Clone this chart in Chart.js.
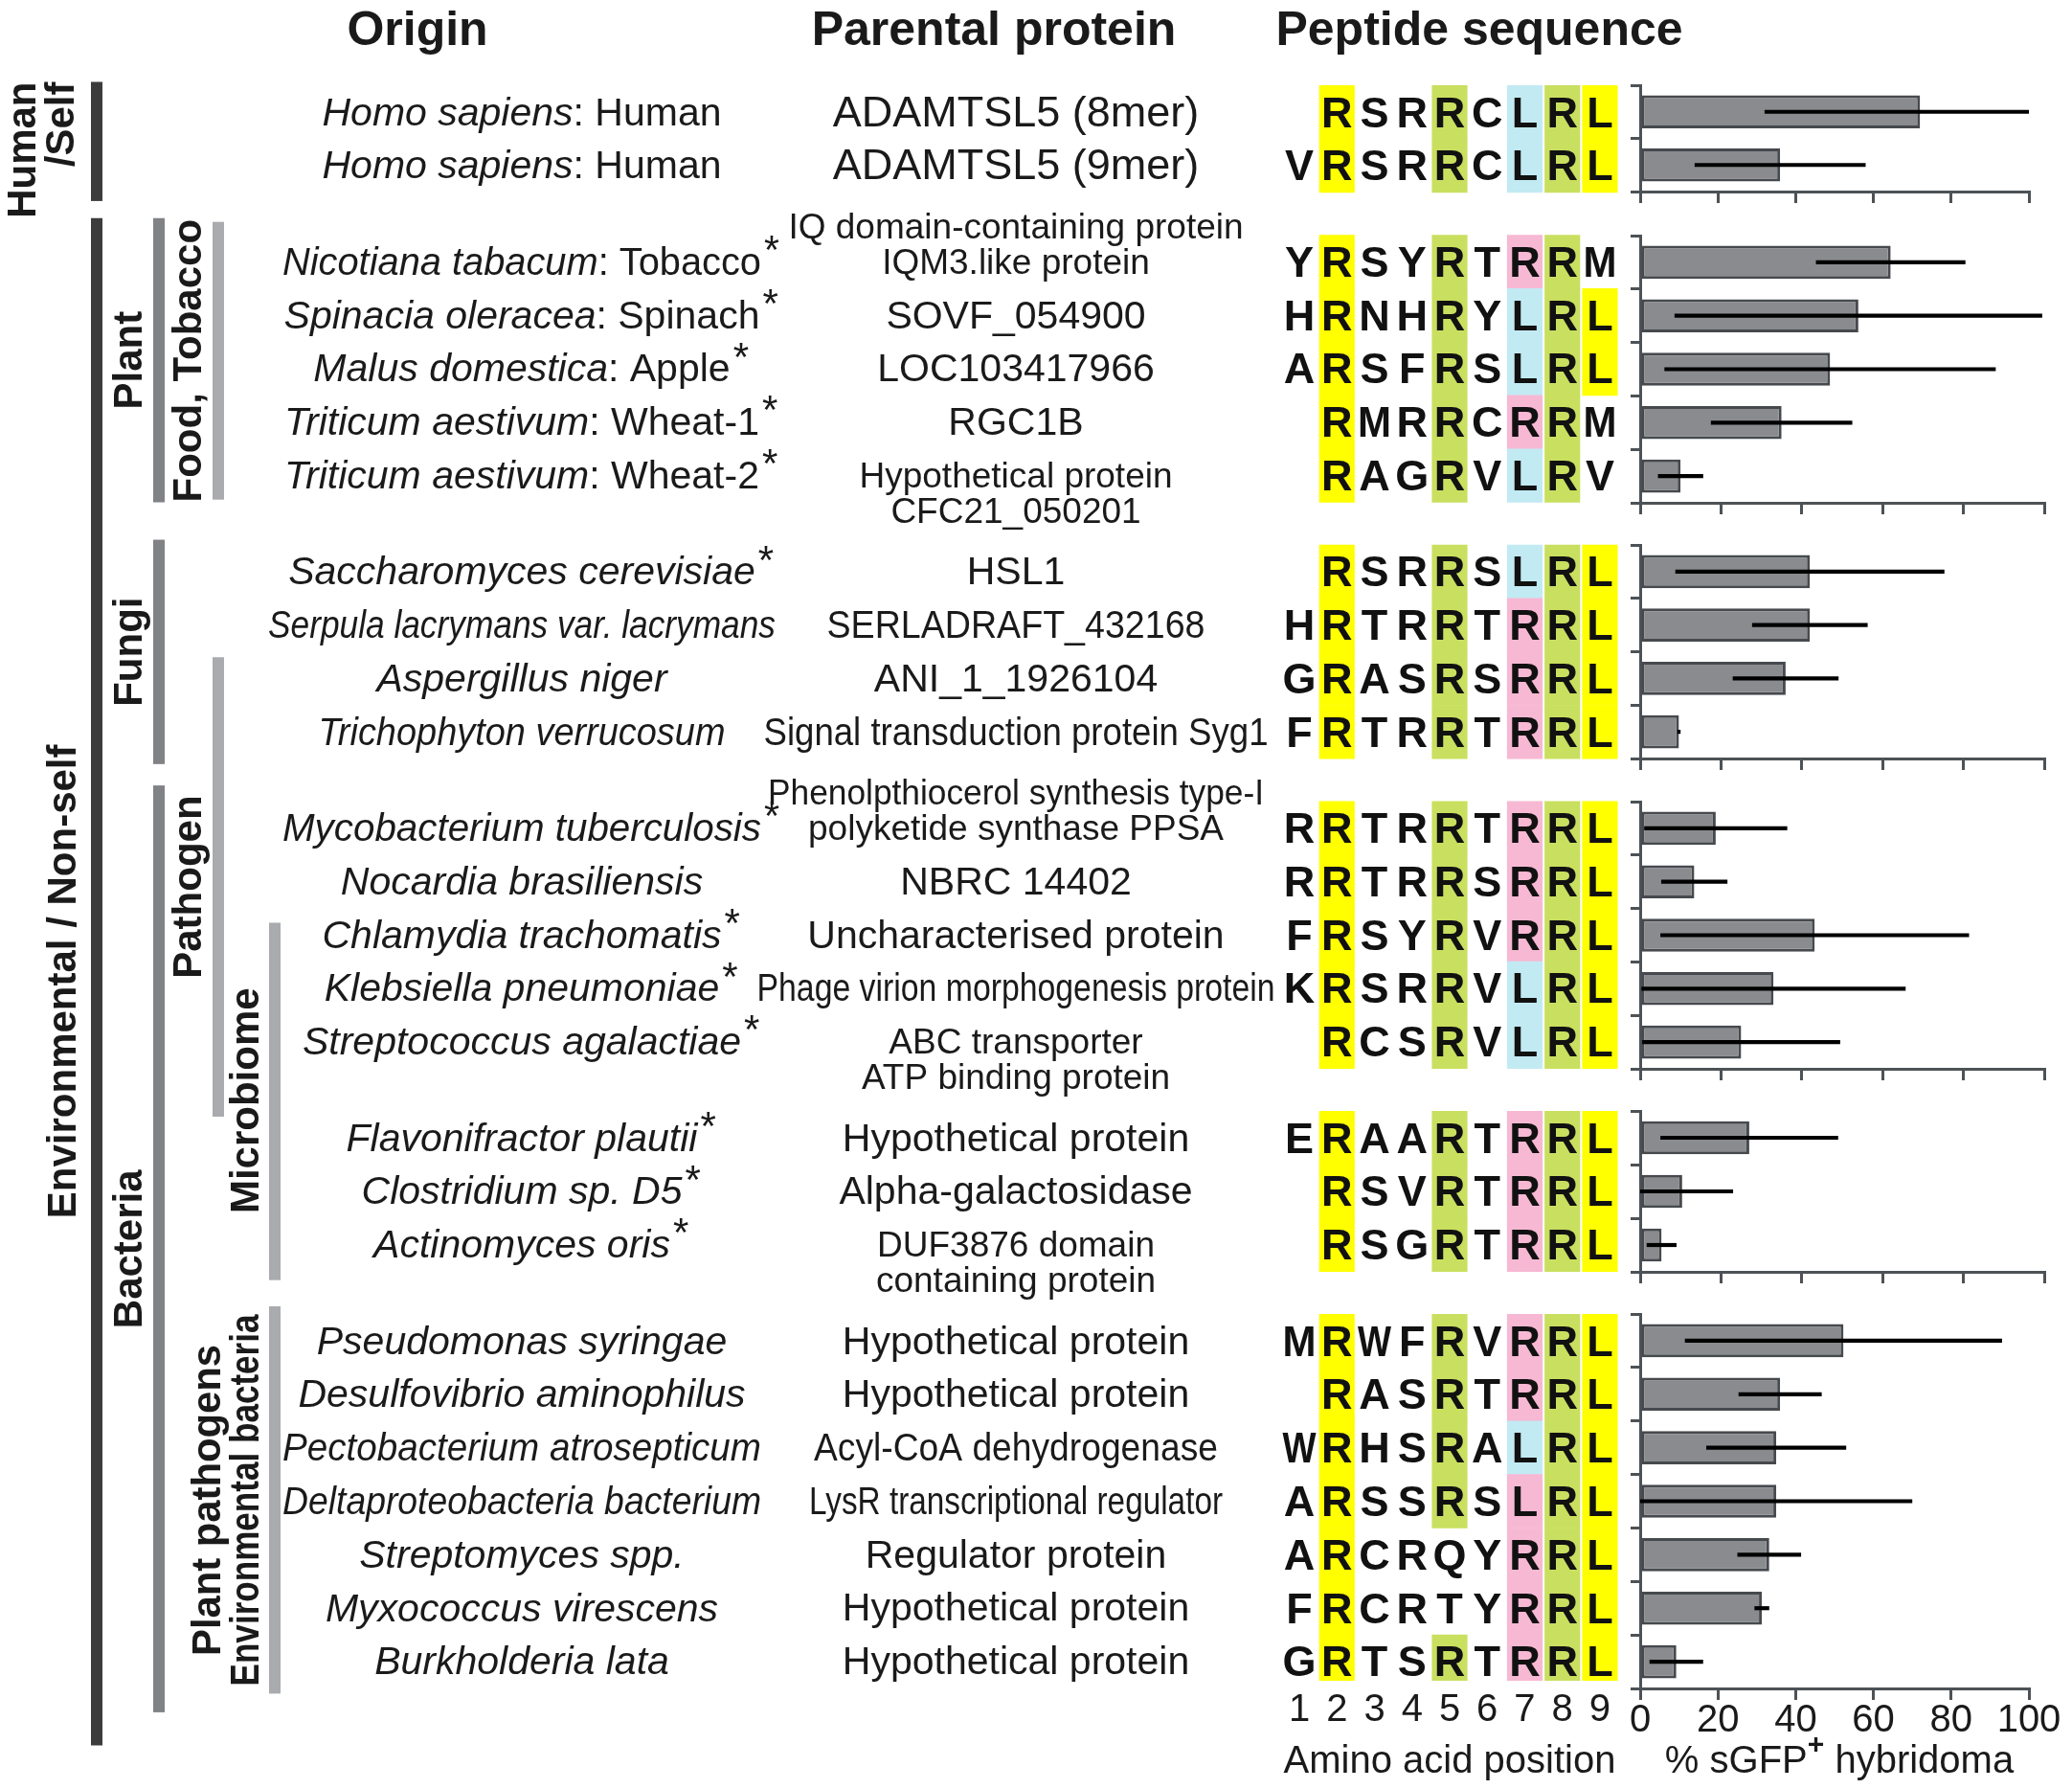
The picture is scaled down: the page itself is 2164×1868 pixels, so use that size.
<!DOCTYPE html>
<html>
<head>
<meta charset="utf-8">
<script src="https://cdn.jsdelivr.net/npm/chart.js@4.4.0/dist/chart.umd.min.js"></script>
<style>
  body { margin: 0; background: #fff; }
  #wrap { position: relative; width: 2164px; height: 1868px; overflow: hidden; background: #fff; }
  canvas { position: absolute; }
</style>
</head>
<body>
<div id="wrap"><canvas id="seq" width="2164" height="1868" style="left:0;top:0"></canvas></div>
<script>
// rows per block, top to bottom
const groupSizes = [2, 5, 4, 5, 3, 7];

const species = ["Homo sapiens", "Homo sapiens", "Nicotiana tabacum", "Spinacia oleracea", "Malus domestica",
    "Triticum aestivum", "Triticum aestivum", "Saccharomyces cerevisiae", "Serpula lacrymans var. lacrymans",
    "Aspergillus niger", "Trichophyton verrucosum", "Mycobacterium tuberculosis", "Nocardia brasiliensis",
    "Chlamydia trachomatis", "Klebsiella pneumoniae", "Streptococcus agalactiae", "Flavonifractor plautii",
    "Clostridium sp. D5", "Actinomyces oris", "Pseudomonas syringae", "Desulfovibrio aminophilus",
    "Pectobacterium atrosepticum", "Deltaproteobacteria bacterium", "Streptomyces spp.", "Myxococcus virescens",
    "Burkholderia lata"];
const commonNames = ["Human", "Human", "Tobacco", "Spinach", "Apple", "Wheat-1", "Wheat-2",
    "", "", "", "", "", "", "", "", "", "", "", "", "", "", "", "", "", "", ""];
const starred = [0, 0, 1, 1, 1, 1, 1, 1, 0, 0, 0, 1, 0, 1, 1, 1, 1, 1, 1, 0, 0, 0, 0, 0, 0, 0];

const parental = [["ADAMTSL5 (8mer)"], ["ADAMTSL5 (9mer)"], ["IQ domain-containing protein", "IQM3.like protein"],
    ["SOVF_054900"], ["LOC103417966"], ["RGC1B"], ["Hypothetical protein", "CFC21_050201"], ["HSL1"],
    ["SERLADRAFT_432168"], ["ANI_1_1926104"], ["Signal transduction protein Syg1"],
    ["Phenolpthiocerol synthesis type-I", "polyketide synthase PPSA"], ["NBRC 14402"], ["Uncharacterised protein"],
    ["Phage virion morphogenesis protein"], ["ABC transporter", "ATP binding protein"], ["Hypothetical protein"],
    ["Alpha-galactosidase"], ["DUF3876 domain", "containing protein"], ["Hypothetical protein"],
    ["Hypothetical protein"], ["Acyl-CoA dehydrogenase"], ["LysR transcriptional regulator"],
    ["Regulator protein"], ["Hypothetical protein"], ["Hypothetical protein"]];

// amino acid at positions 1-9 (space = none)
const peptides = [" RSRRCLRL", "VRSRRCLRL", "YRSYRTRRM", "HRNHRYLRL", "ARSFRSLRL", " RMRRCRRM", " RAGRVLRV",
    " RSRRSLRL", "HRTRRTRRL", "GRASRSRRL", "FRTRRTRRL", "RRTRRTRRL", "RRTRRSRRL", "FRSYRVRRL", "KRSRRVLRL",
    " RCSRVLRL", "ERAARTRRL", " RSVRTRRL", " RSGRTRRL", "MRWFRVRRL", " RASRTRRL", "WRHSRALRL", "ARSSRSLRL",
    "ARCRQYRRL", "FRCRTYRRL", "GRTSRTRRL"];
// highlight class per position: Y yellow, G green, C cyan, P pink
const peptideColours = [".Y..G.CGY", ".Y..G.CGY", ".Y..G.PG.", ".Y..G.CGY", ".Y..G.CGY", ".Y..G.PG.", ".Y..G.CG.",
    ".Y..G.CGY", ".Y..G.PGY", ".Y..G.PGY", ".Y..G.PGY", ".Y..G.PGY", ".Y..G.PGY", ".Y..G.PGY", ".Y..G.CGY",
    ".Y..G.CGY", ".Y..G.PGY", ".Y..G.PGY", ".Y..G.PGY", ".Y..G.PGY", ".Y..G.PGY", ".Y..G.CGY", ".Y..G.PGY",
    ".Y....PGY", ".Y....PGY", ".Y..G.PGY"];
const positions = ["1", "2", "3", "4", "5", "6", "7", "8", "9"];

// % sGFP+ hybridoma, mean and error
const sgfpMean = [72, 36, 62, 54, 47, 35, 10, 42, 42, 36, 9.6, 18.7, 13.4, 43.2, 33, 25, 27, 10.4, 5.3,
    52.3, 36, 35, 35, 33.2, 31.3, 9.3];
const sgfpErr = [40, 22, 18.5, 45.5, 41, 17.5, 5.6, 33.3, 14.3, 13.1, 0.4, 17.7, 8.2, 38.2, 32.7, 24.5, 22, 12.6, 3.7,
    40.8, 10.7, 18, 35, 8.2, 1.9, 6.9];
const xTicks = [0, 20, 40, 60, 80, 100];

// ---- layout / style ----
const FONT = "'Liberation Sans', Arial, Helvetica, sans-serif";
const INK = "#1a1a1a";
const AXIS = "#4d5256";
const GAP = 0.8;            // extra space between blocks, in rows
const ROW0 = 117.3, ROWH = 55.78;
const ORIGIN_X = 545, PARENT_X = 1061;
const TEXT_DY = 2;
const cellColours = {Y: "#ffff00", G: "#c9df5f", C: "#c2eaf3", P: "#f7b8d3"};
const parentalAnchor = {2: "last", 6: "first", 11: "last", 15: "first", 18: "first"};
const parentalMaxW = {8: 395, 10: 527, 11: 518, 14: 541, 21: 422, 22: 432};
const parentalSize = {0: 45, 1: 45};
const originMaxW = {8: 530, 10: 425};
const dark = "#3c3c3c", mid = "#808285", light = "#a9abae";
const brackets = [
    {x: 101, from: -0.57, to: 1.66, c: dark}, {x: 101, from: 1.98, to: 30.57, c: dark},
    {x: 166, from: 1.98, to: 7.3, c: mid}, {x: 166, from: 8.0, to: 12.2, c: mid}, {x: 166, from: 12.6, to: 29.95, c: mid},
    {x: 228, from: 2.05, to: 7.25, c: light}, {x: 228, from: 10.2, to: 18.8, c: light},
    {x: 287, from: 15.17, to: 21.86, c: light}, {x: 287, from: 22.35, to: 29.6, c: light}
];
const bracketLabels = [
    {text: "Human", x: 25, end: -0.57}, {text: "/Self", x: 65, end: -0.57},
    {text: "Environmental / Non-self", x: 67, mid: 16.27},
    {text: "Plant", x: 136, mid: 4.64}, {text: "Fungi", x: 136, mid: 10.1}, {text: "Bacteria", x: 136, mid: 21.28},
    {text: "Food, Tobacco", x: 198, mid: 4.65}, {text: "Pathogen", x: 198, mid: 14.5},
    {text: "Microbiome", x: 258, mid: 18.5},
    {text: "Plant pathogens", x: 218, mid: 25.98, maxW: 325},
    {text: "Environmental bacteria", x: 258, mid: 25.98, maxW: 388}
];

Chart.defaults.font.family = FONT;

const rowVal = [], rowGroup = [];
let rr = 0;
groupSizes.forEach((n, g) => { for (let k = 0; k < n; k++) { rowVal.push(rr + GAP * g); rowGroup.push(g); rr++; } });

const cells = [], cellFill = [];
peptideColours.forEach((row, i) => {
    [...row].forEach((c, j) => {
        if (cellColours[c]) {
            cells.push({x: positions[j], y: [rowVal[i] - 0.5, rowVal[i] + 0.5]});
            cellFill.push(cellColours[c]);
        }
    });
});

function drawOrigin(ctx, i, cy) {
    const it = "italic 41px " + FONT, rg = "41px " + FONT;
    ctx.font = it;
    const w1 = ctx.measureText(species[i]).width;
    const tail = commonNames[i] ? ": " + commonNames[i] : "";
    ctx.font = rg;
    const w2 = tail ? ctx.measureText(tail).width : 0;
    const total = w1 + w2;
    const k = Math.min(1, (originMaxW[i] || 500) / total);
    ctx.save();
    ctx.translate(ORIGIN_X - total * k / 2, cy);
    ctx.scale(k, 1);
    ctx.font = it;
    ctx.fillText(species[i], 0, 0);
    if (tail) { ctx.font = rg; ctx.fillText(tail, w1, 0); }
    if (starred[i]) { ctx.font = "42px " + FONT; ctx.fillText("*", total + 3, -12); }
    ctx.restore();
}

function drawParental(ctx, i, cy) {
    const lines = parental[i];
    const size = parentalSize[i] || (lines.length > 1 ? 37 : 41);
    ctx.font = size + "px " + FONT;
    let y0 = cy;
    if (lines.length > 1 && parentalAnchor[i] === "last") y0 = cy - 37 * (lines.length - 1);
    lines.forEach((t, l) => {
        const w = ctx.measureText(t).width;
        const maxW = parentalMaxW[i] || 560;
        const k = Math.min(1, maxW / w);
        ctx.save();
        ctx.translate(PARENT_X, y0 + l * 37);
        ctx.scale(k, 1);
        ctx.fillText(t, 0, 0);
        ctx.restore();
    });
}

const tablePlugin = {
    id: "table",
    afterDraw(chart) {
        const ctx = chart.ctx, y = chart.scales.y;
        ctx.save();
        ctx.fillStyle = INK;
        ctx.textBaseline = "middle";
        ctx.textAlign = "center";
        ctx.font = "bold 50px " + FONT;
        ctx.fillText("Origin", 436, 33);
        ctx.fillText("Parental protein", 1038, 33);
        ctx.fillText("Peptide sequence", 1545, 33);

        ctx.textAlign = "left";
        species.forEach((s, i) => drawOrigin(ctx, i, y.getPixelForValue(rowVal[i]) + TEXT_DY));
        ctx.textAlign = "center";
        parental.forEach((p, i) => drawParental(ctx, i, y.getPixelForValue(rowVal[i]) + TEXT_DY));

        brackets.forEach(b => {
            ctx.fillStyle = b.c;
            const t = y.getPixelForValue(b.from), btm = y.getPixelForValue(b.to);
            ctx.fillRect(b.x - 6, t, 12, btm - t);
        });
        ctx.fillStyle = INK;
        ctx.font = "bold 42px " + FONT;
        bracketLabels.forEach(l => {
            ctx.save();
            if (l.end !== undefined) {
                ctx.translate(l.x, y.getPixelForValue(l.end));
                ctx.rotate(-Math.PI / 2);
                ctx.textAlign = "right";
            } else {
                ctx.translate(l.x, y.getPixelForValue(l.mid));
                ctx.rotate(-Math.PI / 2);
                ctx.textAlign = "center";
            }
            if (l.maxW) ctx.fillText(l.text, 0, 0, l.maxW);
            else ctx.fillText(l.text, 0, 0);
            ctx.restore();
        });
        ctx.restore();
    }
};

const lettersPlugin = {
    id: "letters",
    afterDatasetsDraw(chart) {
        const ctx = chart.ctx, xs = chart.scales.x, ys = chart.scales.y;
        ctx.save();
        ctx.fillStyle = "#111";
        ctx.font = "bold 45px " + FONT;
        ctx.textAlign = "center";
        ctx.textBaseline = "middle";
        peptides.forEach((seq, i) => {
            [...seq].forEach((aa, j) => {
                if (aa !== " ") ctx.fillText(aa, xs.getPixelForValue(j), ys.getPixelForValue(rowVal[i]) + 3, 35);
            });
        });
        ctx.restore();
    }
};

const seqChart = new Chart(document.getElementById("seq"), {
    type: "bar",
    data: {
        labels: positions,
        datasets: [{data: cells, backgroundColor: cellFill, borderWidth: 0, barThickness: 36.5}]
    },
    options: {
        responsive: false, animation: false, devicePixelRatio: 1,
        layout: {padding: {left: 1337.4, right: 2164 - 1690.6, top: 61.5, bottom: 8}},
        plugins: {legend: {display: false}, tooltip: {enabled: false}},
        scales: {
            x: {
                type: "category", offset: true,
                grid: {display: false, drawTicks: false}, border: {display: false},
                ticks: {color: INK, font: {size: 40, lineHeight: 1}, padding: 11, maxRotation: 0},
                title: {display: true, text: "Amino acid position", color: INK,
                        font: {size: 40, lineHeight: 1}, padding: {top: 3, bottom: 0}}
            },
            y: {type: "linear", reverse: true, display: false, min: -1, max: 30}
        }
    },
    plugins: [tablePlugin, lettersPlugin]
});
// make the hidden row scale land rows where the figure has them
{
    const ca = seqChart.chartArea;
    seqChart.options.scales.y.min = (ca.top - ROW0) / ROWH;
    seqChart.options.scales.y.max = (ca.bottom - ROW0) / ROWH;
    seqChart.update();
}

const errorBars = {
    id: "errorBars",
    afterDatasetsDraw(chart) {
        const ds = chart.data.datasets[0], meta = chart.getDatasetMeta(0), xs = chart.scales.x, ctx = chart.ctx;
        ctx.save();
        ctx.strokeStyle = "#000";
        ctx.lineWidth = 4.2;
        meta.data.forEach((bar, i) => {
            const lo = Math.max(0, ds.data[i] - ds.errors[i]), hi = Math.min(100, ds.data[i] + ds.errors[i]);
            ctx.beginPath();
            ctx.moveTo(xs.getPixelForValue(lo), bar.y);
            ctx.lineTo(xs.getPixelForValue(hi), bar.y);
            ctx.stroke();
        });
        ctx.restore();
    }
};

const xTitle = {
    id: "xTitle",
    afterDraw(chart) {
        const ctx = chart.ctx, a = chart.chartArea;
        const parts = [["% sGFP", "40px " + FONT, 0], ["+", "bold 30px " + FONT, -17], [" hybridoma", "40px " + FONT, 0]];
        let total = 0;
        parts.forEach(p => { ctx.font = p[1]; p.push(ctx.measureText(p[0]).width); total += p[3]; });
        let x = (a.left + a.right) / 2 + 5 - total / 2;
        const y = a.bottom + 77;
        ctx.save();
        ctx.fillStyle = INK;
        ctx.textAlign = "left";
        ctx.textBaseline = "middle";
        parts.forEach(p => { ctx.font = p[1]; ctx.fillText(p[0], x, y + p[2]); x += p[3]; });
        ctx.restore();
    }
};

function panelChart(p, w, h) {
    const idx = rowGroup.map((g, i) => g === p ? i : -1).filter(i => i >= 0);
    const last = p === groupSizes.length - 1;
    const cv = document.createElement("canvas");
    cv.width = Math.round(w);
    cv.height = Math.round(h);
    document.getElementById("wrap").appendChild(cv);
    const axisLine = {display: true, width: 3, color: AXIS};
    return new Chart(cv, {
        type: "bar",
        data: {
            labels: idx.map(i => species[i]),
            datasets: [{
                data: idx.map(i => sgfpMean[i]),
                errors: idx.map(i => sgfpErr[i]),
                backgroundColor: "#898b8e", borderColor: "#464a4e", borderWidth: 3, borderSkipped: false,
                categoryPercentage: 1, barPercentage: 0.62
            }]
        },
        options: {
            indexAxis: "y", responsive: false, animation: false, devicePixelRatio: 1,
            layout: {padding: {left: 6, right: last ? 50 : 12, top: 6, bottom: last ? 60 : 6}},
            plugins: {legend: {display: false}, tooltip: {enabled: false}},
            scales: {
                y: {
                    grid: {drawOnChartArea: false, drawTicks: true, tickLength: 10, lineWidth: 3, color: AXIS},
                    border: axisLine, ticks: {display: false}
                },
                x: {
                    type: "linear", min: 0, max: 100,
                    afterBuildTicks: s => { s.ticks = xTicks.map(v => ({value: v})); },
                    grid: {drawOnChartArea: false, drawTicks: true, tickLength: 12, lineWidth: 3, color: AXIS},
                    border: axisLine,
                    ticks: {display: last, color: INK, font: {size: 40, lineHeight: 1}, padding: 2, maxRotation: 0}
                }
            }
        },
        plugins: last ? [errorBars, xTitle] : [errorBars]
    });
}

const panelRight = [2119, 2135, 2135, 2135, 2135, 2119];
groupSizes.forEach((n, p) => {
    const first = rowGroup.indexOf(p), lastRow = first + n - 1;
    const ys = seqChart.scales.y;
    const want = {left: 1713, right: panelRight[p],
        top: ys.getPixelForValue(rowVal[first] - 0.5), bottom: ys.getPixelForValue(rowVal[lastRow] + 0.5)};
    let w = want.right - want.left + 120, h = want.bottom - want.top + 120;
    let ch = panelChart(p, w, h);
    const a = ch.chartArea;
    w = a.left + (want.right - want.left) + (w - a.right);
    h = a.top + (want.bottom - want.top) + (h - a.bottom);
    const old = ch.canvas;
    ch.destroy();
    old.remove();
    ch = panelChart(p, w, h);
    ch.canvas.style.left = (want.left - ch.chartArea.left) + "px";
    ch.canvas.style.top = (want.top - ch.chartArea.top) + "px";
});
</script>
</body>
</html>
